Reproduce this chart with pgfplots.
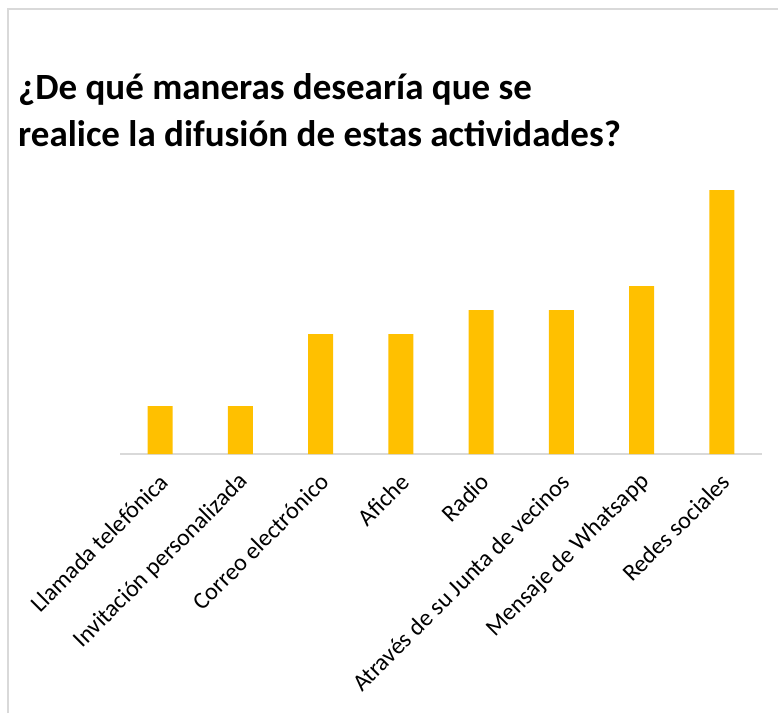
\documentclass[border=0pt]{standalone}
\usepackage{fontspec}
\setmainfont{Carlito}
\usepackage{pgfplots}
\pgfplotsset{compat=1.18}
\definecolor{barc}{RGB}{255,192,0}
\definecolor{linec}{RGB}{217,217,217}
\begin{document}
\begin{tikzpicture}[x=1pt,y=1pt]
\useasboundingbox (0pt,0pt) rectangle (778pt,-713pt);
\draw[linec, line width=1.5pt] (8pt,-713pt) -- (8pt,-9pt) -- (778pt,-9pt);
\node[anchor=base west, inner sep=0pt, font=\fontsize{37}{44}\selectfont\bfseries] at (18pt,-99pt) {¿De qué maneras desearía que se};
\node[anchor=base west, inner sep=0pt, font=\fontsize{37}{44}\selectfont\bfseries] at (18pt,-146pt) {realice la difusión de estas actividades?};
\begin{axis}[
  at={(120pt,-454pt)}, anchor=south west,
  scale only axis, width=642pt, height=288pt,
  xmin=-0.5, xmax=7.5, ymin=0, ymax=12,
  axis x line*=bottom, axis y line=none,
  x axis line style={linec, line width=1.5pt},
  xtick={0,1,2,3,4,5,6,7},
  major tick length=0pt,
  xticklabels={Llamada telefónica, Invitación personalizada, Correo electrónico, Afiche, Radio, Através de su Junta de vecinos, Mensaje de Whatsapp, Redes sociales},
  xticklabel style={xshift=4pt, yshift=-24pt, rotate=45, anchor=east, inner sep=0pt, font=\fontsize{24}{28}\selectfont},
  ybar, bar width=25pt,
]
\addplot[fill=barc, draw=none] coordinates {(0,2) (1,2) (2,5) (3,5) (4,6) (5,6) (6,7) (7,11)};
\end{axis}
\end{tikzpicture}
\end{document}
